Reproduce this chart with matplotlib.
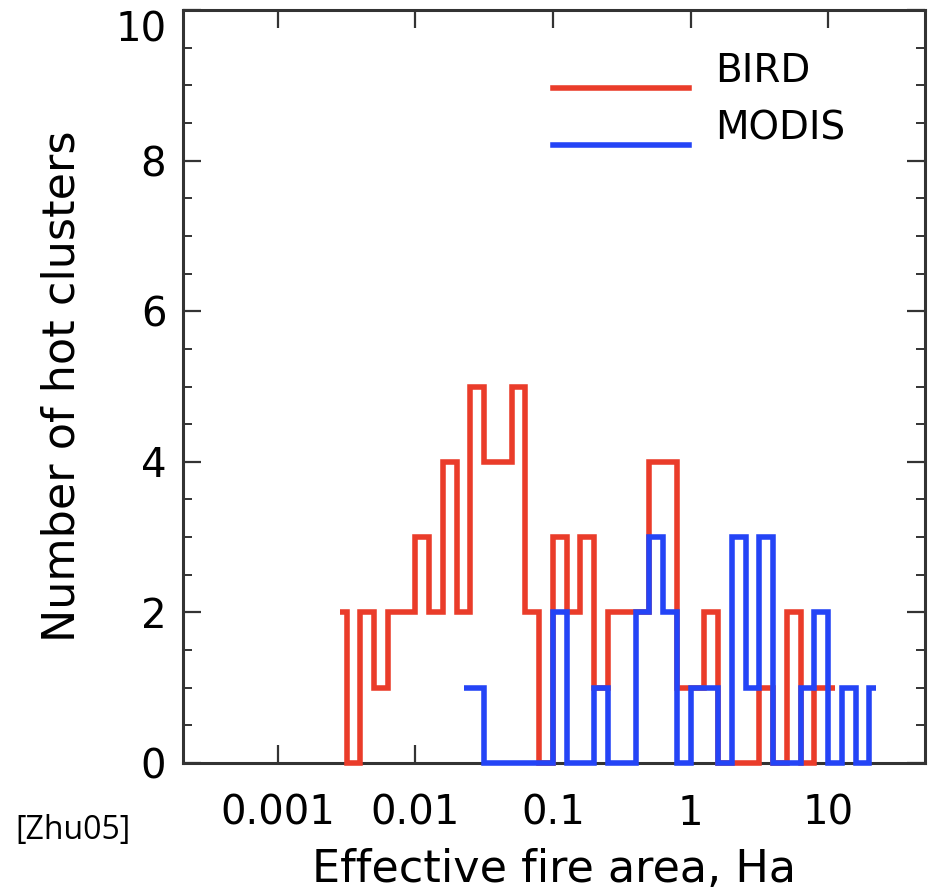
import numpy as np
import matplotlib
matplotlib.use('Agg')
import matplotlib.pyplot as plt
from matplotlib.ticker import FixedLocator, NullLocator, MultipleLocator
from matplotlib.legend_handler import HandlerBase
from matplotlib.lines import Line2D

# log10 of bin centres (effective fire area, Ha) and counts per bin
bird_log_area = [-2.55, -2.45, -2.35, -2.25, -2.15, -2.05, -1.95, -1.85, -1.75, -1.65,
                 -1.55, -1.45, -1.35, -1.25, -1.15, -1.05, -0.95, -0.85, -0.75, -0.65,
                 -0.55, -0.45, -0.35, -0.25, -0.15, -0.05, 0.05, 0.15, 0.25, 0.35,
                 0.45, 0.55, 0.65, 0.75, 0.85, 0.95, 1.05]
bird_counts = [2, 0, 2, 1, 2, 2, 3, 2, 4, 2,
               5, 4, 4, 5, 2, 0, 3, 2, 3, 1,
               2, 2, 2, 4, 4, 1, 1, 2, 0, 0,
               0, 1, 0, 2, 0, 1, 1]

modis_log_area = [-1.65, -1.55, -1.45, -1.35, -1.25, -1.15, -1.05, -0.95, -0.85, -0.75,
                  -0.65, -0.55, -0.45, -0.35, -0.25, -0.15, -0.05, 0.05, 0.15, 0.25,
                  0.35, 0.45, 0.55, 0.65, 0.75, 0.85, 0.95, 1.05, 1.15, 1.25, 1.35]
modis_counts = [1, 1, 0, 0, 0, 0, 0, 2, 0, 0,
                1, 0, 0, 2, 3, 2, 0, 1, 1, 0,
                3, 1, 3, 0, 0, 1, 2, 0, 1, 0, 1]

xticks = [0.001, 0.01, 0.1, 1, 10]
xtick_labels = ['0.001', '0.01', '0.1', '1', '10']
yticks = [0, 2, 4, 6, 8, 10]

RED = '#ea3c2a'
BLUE = '#2444f6'
AXC = '#333333'


def draw_hist(ax, log_c, counts, color, label):
    # IDL psym=10 style: steps between centres, half bins at both ends
    c = np.array(log_c)
    x = 10 ** c
    mids = 10 ** ((c[:-1] + c[1:]) / 2)
    edges = np.concatenate([[x[0]], mids, [x[-1]]])
    ax.stairs(counts, edges, baseline=None, color=color, lw=4.0, label=label,
              zorder=3, clip_on=False)


class BaselineLine(HandlerBase):
    # legend sample sitting on the text baseline, like the IDL legend
    def create_artists(self, legend, orig_handle, xdescent, ydescent,
                       width, height, fontsize, trans):
        ln = Line2D([-xdescent, -xdescent + width], [-0.15 * fontsize] * 2,
                    color=orig_handle.get_edgecolor(),
                    lw=orig_handle.get_linewidth(), transform=trans)
        return [ln]


fig = plt.figure(figsize=(9.34, 8.94), dpi=100)
ax = fig.add_axes([183 / 934, 1 - 763 / 894, 742 / 934, 753 / 894])

draw_hist(ax, bird_log_area, bird_counts, RED, 'BIRD')
draw_hist(ax, modis_log_area, modis_counts, BLUE, 'MODIS')

ax.set_xscale('log')
ax.set_xlim(2.04e-4, 50.7)
ax.set_ylim(0, 10)

ax.xaxis.set_major_locator(FixedLocator(xticks))
ax.xaxis.set_minor_locator(NullLocator())
ax.set_xticklabels(xtick_labels)
ax.set_yticks(yticks)
ax.yaxis.set_minor_locator(MultipleLocator(0.5))

for s in ax.spines.values():
    s.set_linewidth(2.2)
    s.set_color(AXC)

ax.tick_params(which='both', direction='in', top=True, right=True, color=AXC)
ax.tick_params(which='major', length=13, width=1.6)
ax.tick_params(which='minor', length=6.5, width=1.4)
ax.tick_params(axis='x', pad=22, labelsize=29)
ax.tick_params(axis='y', pad=12, labelsize=29)
ax.get_yticklabels()[-1].set_va('top')

ax.set_xlabel('Effective fire area, Ha', fontsize=32)
ax.xaxis.set_label_coords(0.5, -0.141)
ax.xaxis.label.set_va('center')
ax.set_ylabel('Number of hot clusters', fontsize=32)
ax.yaxis.set_label_coords(-0.163, 0.5)
ax.yaxis.label.set_va('center')

handles, labels = ax.get_legend_handles_labels()
leg = ax.legend(handles, labels, loc='upper left', bbox_to_anchor=(0.4987, 0.944),
                frameon=False, fontsize=28, handlelength=3.5, handletextpad=0.67,
                labelspacing=0.5, borderpad=0, borderaxespad=0,
                handler_map={h: BaselineLine() for h in handles})

fig.text(15 / 934, 1 - 831 / 894, '[Zhu05]', fontsize=23, family='Open Sans',
         va='center', ha='left')

fig.savefig('out.png', dpi=100)
